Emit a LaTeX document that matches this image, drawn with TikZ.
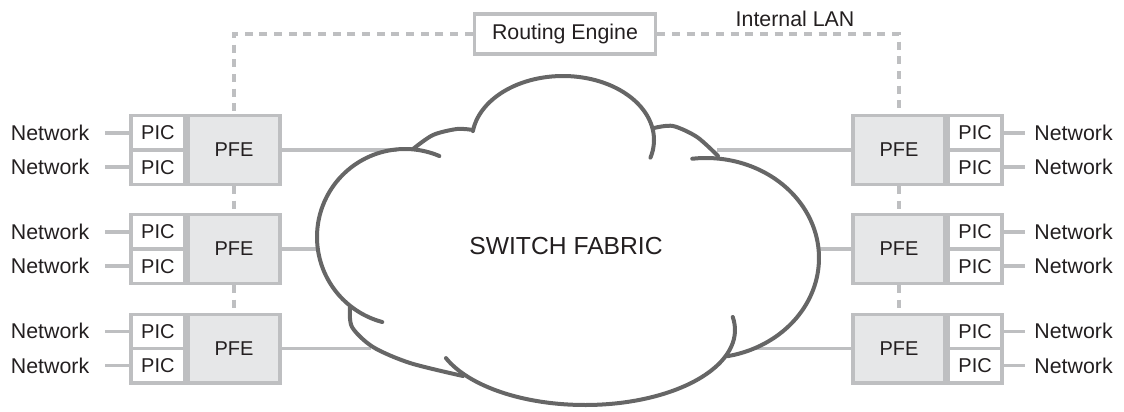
\documentclass[tikz,border=0pt]{standalone}
\usepackage{fontspec}
\setmainfont{Liberation Sans}
\usetikzlibrary{positioning}
\definecolor{edgegray}{RGB}{190,191,193}
\definecolor{pfegray}{RGB}{230,231,232}
\definecolor{cloudgray}{RGB}{102,102,102}
\definecolor{ink}{RGB}{35,31,32}
\begin{document}
\begin{tikzpicture}[x=0.75pt, y=-0.75pt, every node/.style={font=\fontsize{16}{19}\selectfont, text=ink},
  pfe/.style={draw=edgegray, line width=2.6pt, fill=pfegray, minimum width=69pt, minimum height=51.4pt, inner sep=0pt, font=\fontsize{15}{18}\selectfont},
  pic/.style={draw=edgegray, line width=2.6pt, fill=white, minimum width=40pt, minimum height=25.7pt, inner sep=0pt, font=\fontsize{15}{18}\selectfont},
  netL/.style={inner xsep=12pt}, netR/.style={inner xsep=7pt},
  link/.style={draw=edgegray, line width=2.6pt},
  dashlan/.style={draw=edgegray, line width=2.6pt, dash pattern=on 6pt off 5pt},
  fabricline/.style={draw=cloudgray, line width=3pt, line cap=round}]
\useasboundingbox (0,0) rectangle (1124,411);
% Routing engine and internal LAN label
\node[draw=edgegray, line width=2.6pt, fill=white, minimum width=136pt, minimum height=30pt] (re) at (565,34) {Routing Engine};
\node (lan) at (795,19) {Internal LAN};
% Left PFEs with their PICs
\node[pfe] (fL1) at (234,150) {PFE}; \node[pfe] (fL2) at (234,249) {PFE}; \node[pfe] (fL3) at (234,348.5) {PFE};
\node[pic, anchor=north east] (cL1a) at (fL1.north west) {PIC}; \node[pic, anchor=south east] (cL1b) at (fL1.south west) {PIC};
\node[pic, anchor=north east] (cL2a) at (fL2.north west) {PIC}; \node[pic, anchor=south east] (cL2b) at (fL2.south west) {PIC};
\node[pic, anchor=north east] (cL3a) at (fL3.north west) {PIC}; \node[pic, anchor=south east] (cL3b) at (fL3.south west) {PIC};
% Right PFEs with their PICs
\node[pfe] (fR1) at (899,150) {PFE}; \node[pfe] (fR2) at (899,249) {PFE}; \node[pfe] (fR3) at (899,348.5) {PFE};
\node[pic, anchor=north west] (cR1a) at (fR1.north east) {PIC}; \node[pic, anchor=south west] (cR1b) at (fR1.south east) {PIC};
\node[pic, anchor=north west] (cR2a) at (fR2.north east) {PIC}; \node[pic, anchor=south west] (cR2b) at (fR2.south east) {PIC};
\node[pic, anchor=north west] (cR3a) at (fR3.north east) {PIC}; \node[pic, anchor=south west] (cR3b) at (fR3.south east) {PIC};
% Network ports
\node[netL, left=18pt of cL1a] (nL1a) {Network}; \node[netL, left=18pt of cL1b] (nL1b) {Network};
\node[netL, left=18pt of cL2a] (nL2a) {Network}; \node[netL, left=18pt of cL2b] (nL2b) {Network};
\node[netL, left=18pt of cL3a] (nL3a) {Network}; \node[netL, left=18pt of cL3b] (nL3b) {Network};
\node[netR, right=16pt of cR1a] (nR1a) {Network}; \node[netR, right=16pt of cR1b] (nR1b) {Network};
\node[netR, right=16pt of cR2a] (nR2a) {Network}; \node[netR, right=16pt of cR2b] (nR2b) {Network};
\node[netR, right=16pt of cR3a] (nR3a) {Network}; \node[netR, right=16pt of cR3b] (nR3b) {Network};
\draw[link] (cL1a) -- (nL1a); \draw[link] (cL1b) -- (nL1b); \draw[link] (cL2a) -- (nL2a); \draw[link] (cL2b) -- (nL2b);
\draw[link] (cL3a) -- (nL3a); \draw[link] (cL3b) -- (nL3b);
\draw[link] (cR1a) -- (nR1a); \draw[link] (cR1b) -- (nR1b); \draw[link] (cR2a) -- (nR2a); \draw[link] (cR2b) -- (nR2b);
\draw[link] (cR3a) -- (nR3a); \draw[link] (cR3b) -- (nR3b);
% Internal LAN (dashed)
\draw[dashlan] (re.west) -| (fL1.north); \draw[dashlan] (re.east) -| (fR1.north);
\draw[dashlan] (fL1.south) -- (fL2.north); \draw[dashlan] (fL2.south) -- (fL3.north);
\draw[dashlan] (fR1.south) -- (fR2.north); \draw[dashlan] (fR2.south) -- (fR3.north);
% Links from PFEs into the fabric
\coordinate (eL1) at (397,150); \coordinate (eL2) at (319,249); \coordinate (eL3) at (371,348.5);
\coordinate (eR1) at (717,150); \coordinate (eR2) at (819,249); \coordinate (eR3) at (753,348.5);
\draw[link] (fL1) -- (eL1); \draw[link] (fL2) -- (eL2); \draw[link] (fL3) -- (eL3);
\draw[link] (fR1) -- (eR1); \draw[link] (fR2) -- (eR2); \draw[link] (fR3) -- (eR3);
% Switch fabric cloud
\draw[fabricline] plot[domain=-255:-67, samples=60, smooth] ({405+88*cos(\x)}, {237+88*sin(\x)});
\draw[fabricline] plot[smooth] coordinates {(413,149) (433,135) (457,129) (473,130)};
\draw[fabricline] plot[domain=-172:16, samples=60, smooth] ({563+91*cos(\x)}, {140+64*sin(\x)});
\draw[fabricline] plot[smooth] coordinates {(654,128) (673,126) (697,137) (718,156)};
\draw[fabricline] plot[domain=-97:79, samples=60, smooth] ({706+113*cos(\x)}, {258+100*sin(\x)});
\draw[fabricline] plot[domain=-10:158, samples=60, smooth] ({585+150*cos(\x)}, {330+75*sin(\x)});
\draw[fabricline] plot[smooth] coordinates {(350,307) (352,327) (373,347) (410,363) (463,376)};
\node[font=\fontsize{18.5}{22}\selectfont] (fab) at (566,246) {SWITCH FABRIC};
\end{tikzpicture}
\end{document}
